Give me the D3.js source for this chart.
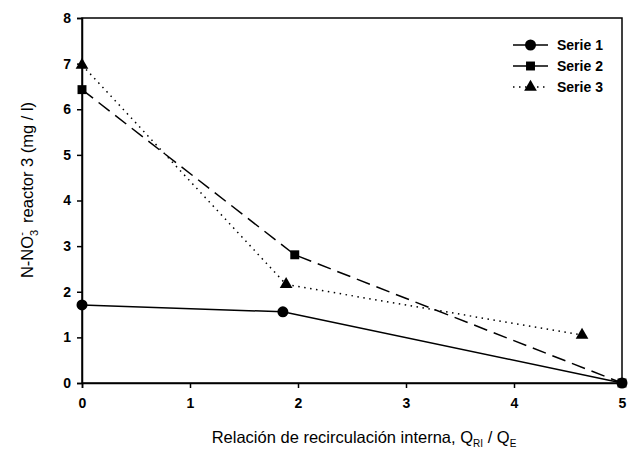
<!DOCTYPE html>
<html>
<head>
<meta charset="utf-8">
<script src="https://cdn.jsdelivr.net/npm/d3@7"></script>
<style>
	body { margin: 0; background: #fff; }
	svg { font-family: 'Liberation Sans', Arial, sans-serif; }
	.tick text { font-size: 14px; font-weight: bold; fill: #000; }
	.tick line, .domain { stroke: #000; stroke-width: 1.5; }
</style>
</head>
<body>
<div id="chart"></div>
<script>
const seriesNames = ['Serie 1', 'Serie 2', 'Serie 3'];
const serie1X = [0, 1.86, 5];
const serie1Y = [1.71, 1.56, 0];
const serie2X = [0, 1.97, 5];
const serie2Y = [6.43, 2.81, 0];
const serie3X = [0, 1.89, 4.63];
const serie3Y = [6.97, 2.16, 1.05];
const xTicks = [0, 1, 2, 3, 4, 5];
const yTicks = [0, 1, 2, 3, 4, 5, 6, 7, 8];

const w = 632;
const h = 458;
const margin = {top: 18, right: 10, bottom: 75, left: 82};

const svg = d3.select('#chart').append('svg')
	.attr('width', w)
	.attr('height', h);

const x = d3.scaleLinear()
	.domain([0, 5])
	.range([margin.left, w - margin.right]);

const y = d3.scaleLinear()
	.domain([0, 8])
	.range([h - margin.bottom, margin.top]);

// frame
svg.append('rect')
	.attr('x', x(0))
	.attr('y', y(8))
	.attr('width', x(5) - x(0))
	.attr('height', y(0) - y(8))
	.attr('fill', 'none')
	.attr('stroke', '#000')
	.attr('stroke-width', 1.5);

svg.append('g')
	.attr('transform', `translate(0,${y(0)})`)
	.call(d3.axisBottom(x).tickValues(xTicks).tickFormat(d3.format('d')).tickSize(5).tickPadding(10));

svg.append('g')
	.attr('transform', `translate(${x(0)},0)`)
	.call(d3.axisLeft(y).tickValues(yTicks).tickFormat(d3.format('d')).tickSize(5).tickPadding(6));

const series = [
	{name: seriesNames[0], xs: serie1X, ys: serie1Y, dash: null, shape: d3.symbolCircle, size: 95},
	{name: seriesNames[1], xs: serie2X, ys: serie2Y, dash: '14,7', shape: d3.symbolSquare, size: 80},
	{name: seriesNames[2], xs: serie3X, ys: serie3Y, dash: '1.5,4.5', shape: d3.symbolTriangle, size: 70}
];

const line = d3.line()
	.x(d => x(d[0]))
	.y(d => y(d[1]));

series.forEach(s => {
	const pts = s.xs.map((v, i) => [v, s.ys[i]]);
	svg.append('path')
		.datum(pts)
		.attr('d', line)
		.attr('fill', 'none')
		.attr('stroke', '#000')
		.attr('stroke-width', 1.5)
		.attr('stroke-dasharray', s.dash);
	svg.selectAll(null)
		.data(pts)
		.enter().append('path')
		.attr('d', d3.symbol().type(s.shape).size(s.size))
		.attr('transform', d => `translate(${x(d[0])},${y(d[1])})`)
		.attr('fill', '#000');
});

// legend
const legend = svg.append('g').attr('transform', 'translate(513,45)');
series.forEach((s, i) => {
	const g = legend.append('g').attr('transform', `translate(0,${i * 21})`);
	g.append('line')
		.attr('x1', 0).attr('x2', 35)
		.attr('stroke', '#000')
		.attr('stroke-width', 1.5)
		.attr('stroke-dasharray', s.dash);
	g.append('path')
		.attr('d', d3.symbol().type(s.shape).size(s.size))
		.attr('transform', 'translate(17.5,0)')
		.attr('fill', '#000');
	g.append('text')
		.attr('x', 44)
		.attr('y', 5)
		.attr('font-size', 14)
		.attr('font-weight', 'bold')
		.text(s.name);
});

// axis titles
const xl = svg.append('text')
	.attr('x', 364)
	.attr('y', 443)
	.attr('text-anchor', 'middle')
	.attr('font-size', 16.5);
xl.append('tspan').text('Relación de recirculación interna, Q');
xl.append('tspan').attr('dy', 4).attr('font-size', 10).text('RI');
xl.append('tspan').attr('dy', -4).text('\u00a0/ Q');
xl.append('tspan').attr('dy', 4).attr('font-size', 10).text('E');

const yl = svg.append('text')
	.attr('transform', 'translate(33,190) rotate(-90)')
	.attr('text-anchor', 'middle')
	.attr('font-size', 16.5);
yl.append('tspan').text('N-NO');
yl.append('tspan').attr('dy', 5).attr('font-size', 11).text('3');
yl.append('tspan').attr('dx', -6).attr('dy', -13).attr('font-size', 11).text('-');
yl.append('tspan').attr('dy', 8).text('\u00a0\u00a0reactor 3 (mg / l)');
</script>
</body>
</html>
